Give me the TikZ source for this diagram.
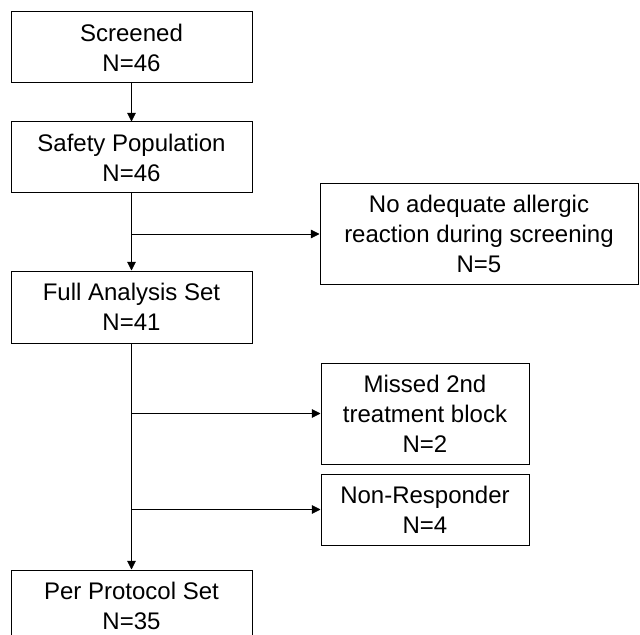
\documentclass[tikz,border=0pt]{standalone}
\usepackage{fontspec}
\setmainfont{Liberation Sans}
\usetikzlibrary{arrows.meta}
\begin{document}
\begin{tikzpicture}[x=0.75pt,y=-0.75pt,
  box/.style={draw,line width=0.75pt,align=center,inner sep=0pt,
    font=\fontsize{18}{22.5}\selectfont},
  conn/.style={line width=0.6pt,-{Triangle[length=6.5pt,width=6.5pt]}},
  plain/.style={line width=0.6pt}]
\useasboundingbox (0,0) rectangle (640,635);
\node[box,minimum width=241*0.75pt,minimum height=71*0.75pt] (scr) at (131.5,47.5) {Screened\\N=46};
\node[box,minimum width=241*0.75pt,minimum height=71*0.75pt] (saf) at (131.5,157.5) {Safety Population\\N=46};
\node[box,minimum width=318*0.75pt,minimum height=100*0.75pt] (exa) at (479,234) {No adequate allergic\\reaction during screening\\N=5};
\node[box,minimum width=241*0.75pt,minimum height=72*0.75pt] (fas) at (131.5,307) {Full Analysis Set\\N=41};
\node[box,minimum width=208*0.75pt,minimum height=101*0.75pt] (mis) at (425,413.5) {Missed 2nd\\treatment block\\N=2};
\node[box,minimum width=208*0.75pt,minimum height=71*0.75pt] (non) at (425,509.5) {Non-Responder\\N=4};
\node[box,minimum width=241*0.75pt,minimum height=71*0.75pt] (pps) at (131.5,605.5) {Per Protocol Set\\N=35};
\draw[conn] (scr) -- (saf);
\draw[conn] (saf) -- (fas);
\coordinate (b1) at (saf.south |- exa.west);
\draw[conn] (b1) -- (exa.west);
\draw[conn] (fas) -- (pps);
\coordinate (b2) at (fas.south |- mis.west);
\coordinate (b3) at (fas.south |- non.west);
\draw[conn] (b2) -- (mis.west);
\draw[conn] (b3) -- (non.west);
\end{tikzpicture}
\end{document}
